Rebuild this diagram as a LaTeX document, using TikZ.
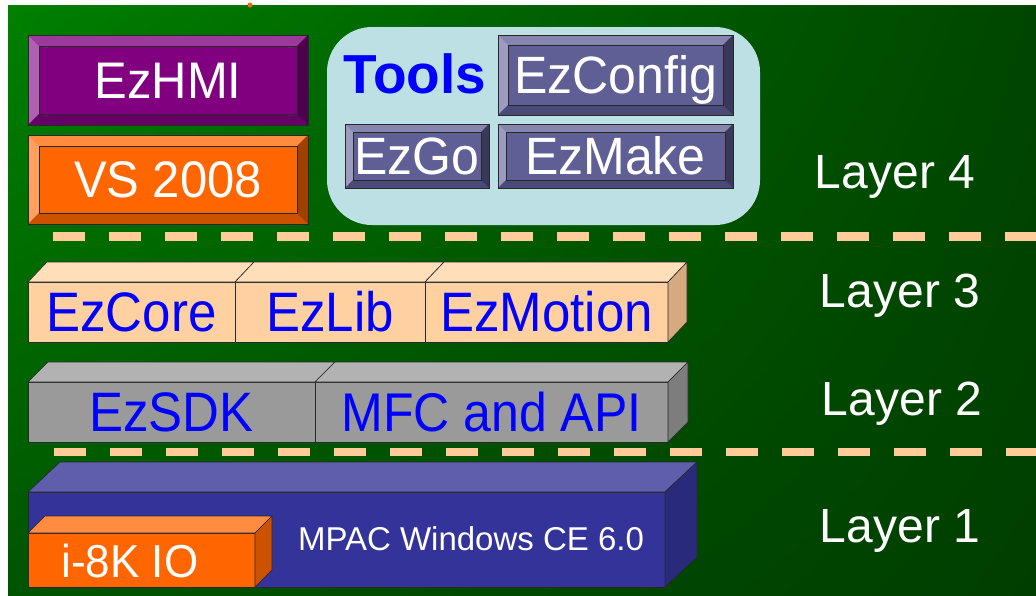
\documentclass[tikz,border=0pt]{standalone}
\usepackage{fontspec}
\setmainfont{Liberation Sans}
\usetikzlibrary{calc,shadings}
\definecolor{bgA}{RGB}{0,128,0}
\definecolor{bgB}{RGB}{0,70,0}
\definecolor{bgC}{RGB}{0,84,0}
\definecolor{bgD}{RGB}{0,62,0}
\definecolor{peach}{RGB}{255,204,153}
\definecolor{edge}{RGB}{40,40,40}
\definecolor{purF}{RGB}{128,0,128}
\definecolor{purT}{RGB}{155,58,155}
\definecolor{purL}{RGB}{176,96,176}
\definecolor{purB}{RGB}{102,0,102}
\definecolor{purR}{RGB}{77,0,77}
\definecolor{orF}{RGB}{255,102,0}
\definecolor{orT}{RGB}{255,140,63}
\definecolor{orL}{RGB}{255,160,96}
\definecolor{orB}{RGB}{204,82,0}
\definecolor{orR}{RGB}{160,64,0}
\definecolor{slF}{RGB}{95,95,150}
\definecolor{slT}{RGB}{133,133,175}
\definecolor{slL}{RGB}{156,156,192}
\definecolor{slB}{RGB}{74,74,120}
\definecolor{slR}{RGB}{56,56,90}
\definecolor{bubble}{RGB}{188,224,228}
\definecolor{beF}{RGB}{255,208,160}
\definecolor{beT}{RGB}{255,222,186}
\definecolor{beS}{RGB}{214,170,126}
\definecolor{grF}{RGB}{154,154,154}
\definecolor{grT}{RGB}{178,178,178}
\definecolor{grS}{RGB}{125,125,125}
\definecolor{blF}{RGB}{51,51,153}
\definecolor{blT}{RGB}{94,94,173}
\definecolor{blS}{RGB}{42,42,125}
\definecolor{txtblue}{RGB}{0,0,255}
\newcommand{\tallw}[1]{\scalebox{1}[1.05]{#1}}
\newcommand{\tallb}[1]{\scalebox{1}[1.09]{#1}}
\newcommand{\bev}[6]{%
  \fill[#3] (#1.north west) -- (#1.north east) -- ([shift={(-#2,#2)}]#1.north east) -- ([shift={(#2,#2)}]#1.north west) -- cycle;
  \fill[#4] (#1.north west) -- ([shift={(#2,#2)}]#1.north west) -- ([shift={(#2,-#2)}]#1.south west) -- (#1.south west) -- cycle;
  \fill[#5] (#1.south west) -- (#1.south east) -- ([shift={(-#2,-#2)}]#1.south east) -- ([shift={(#2,-#2)}]#1.south west) -- cycle;
  \fill[#6] (#1.north east) -- (#1.south east) -- ([shift={(-#2,-#2)}]#1.south east) -- ([shift={(-#2,#2)}]#1.north east) -- cycle;
  \draw[edge, line width=0.6pt] (#1.north west) rectangle (#1.south east);
  \draw[edge, line width=0.4pt] ([shift={(#2,#2)}]#1.north west) rectangle ([shift={(-#2,-#2)}]#1.south east);
}
\newcommand{\topface}[4]{%
  \filldraw[fill=#4, draw=edge, line width=0.6pt] (#1.north west) -- ([shift={(#2,-#3)}]#1.north west) -- ([shift={(#2,-#3)}]#1.north east) -- (#1.north east) -- cycle;}
\newcommand{\sideface}[4]{%
  \filldraw[fill=#4, draw=edge, line width=0.6pt] (#1.north east) -- ([shift={(#2,-#3)}]#1.north east) -- ([shift={(#2,-#3)}]#1.south east) -- (#1.south east) -- cycle;}
\begin{document}
\begin{tikzpicture}[x=1pt,y=-1pt,
  capw/.style={font=\fontsize{#1}{#1}\selectfont, text height=0.752*#1, text depth=0pt, text=white},
  capb/.style={font=\fontsize{#1}{#1}\selectfont, text height=0.780*#1, text depth=0pt, text=txtblue},
  box/.style={rectangle, inner sep=0pt, outer sep=0pt},
  front/.style={box, draw=edge, line width=0.6pt},
  dashline/.style={peach, dash pattern=on 32pt off 24pt},
  layerlbl/.style={text=white, font=\fontsize{48}{48}\selectfont, anchor=base, inner sep=0pt}
]
\useasboundingbox (0,0) rectangle (1036,595);
\fill[white] (0,0) rectangle (1036,595);
\shade[upper left=bgA, upper right=bgB, lower left=bgC, lower right=bgD] (8,5) rectangle (1036,595);
\fill[orF] (250,5) circle (2.5);

% dashed separators
\coordinate (d1s) at (53,236.5);
\coordinate (d1e) at (1036,236.5);
\coordinate (d2s) at (54,452);
\coordinate (d2e) at (1036,452);
\draw[dashline, line width=9pt] (d1s) -- (d1e);
\draw[dashline, line width=8pt] (d2s) -- (d2e);

% Layer 4
\node[box, fill=purF, minimum width=280, minimum height=90, capw=49] (ezhmi) at (168,80) {\tallw{EzHMI}};
\bev{ezhmi}{11}{purT}{purL}{purB}{purR}
\node[box, fill=orF, minimum width=280, minimum height=89, capw=49] (vs) at (168,179.5) {\tallw{VS 2008}};
\bev{vs}{11}{orT}{orL}{orB}{orR}

\node[box, fill=bubble, rounded corners=45pt, minimum width=433, minimum height=198] (toolsbg) at (543.5,126) {};
\node[anchor=base, inner sep=0pt, text=txtblue, font=\fontsize{55}{55}\selectfont\bfseries] (tools) at (415,93) {Tools};
\node[box, fill=slF, minimum width=235, minimum height=80, capw=50] (ezconfig) at (615.5,75) {\tallw{EzConfig}};
\bev{ezconfig}{10}{slT}{slL}{slB}{slR}
\node[box, fill=slF, minimum width=144, minimum height=64, capw=50] (ezgo) at (417,156) {\tallw{EzGo}};
\bev{ezgo}{8}{slT}{slL}{slB}{slR}
\node[box, fill=slF, minimum width=235, minimum height=64, capw=50] (ezmake) at (615.5,156) {\tallw{EzMake}};
\bev{ezmake}{8}{slT}{slL}{slB}{slR}

% Layer 3
\node[front, fill=beF, minimum width=207, minimum height=60, capb=51] (ezcore) at (131.5,312) {\tallb{EzCore}};
\node[front, fill=beF, minimum width=190, minimum height=60, capb=51] (ezlib) at (330,312) {\tallb{EzLib}};
\node[front, fill=beF, minimum width=243, minimum height=60, capb=51] (ezmotion) at (546.5,312) {\tallb{EzMotion}};
\topface{ezcore}{19}{20}{beT}
\topface{ezlib}{19}{20}{beT}
\topface{ezmotion}{19}{20}{beT}
\sideface{ezmotion}{19}{20}{beS}

% Layer 2
\node[front, fill=grF, minimum width=287, minimum height=60, capb=51] (ezsdk) at (171.5,412) {\tallb{EzSDK}};
\node[front, fill=grF, minimum width=353, minimum height=60, capb=50] (mfc) at (491.5,412) {\tallb{MFC and API}};
\topface{ezsdk}{20}{20}{grT}
\topface{mfc}{20}{20}{grT}
\sideface{mfc}{20}{20}{grS}

% Layer 1
\node[front, fill=blF, minimum width=637, minimum height=95] (mpac) at (346.5,539.5) {};
\topface{mpac}{32}{30}{blT}
\sideface{mpac}{32}{30}{blS}
\node[anchor=base, inner sep=0pt, text=white, font=\fontsize{33}{33}\selectfont] (mpactxt) at (471,550) {MPAC Windows CE 6.0};
\node[front, fill=orF, minimum width=227, minimum height=54] (io) at (141.5,560) {};
\topface{io}{17}{17}{orT}
\sideface{io}{17}{17}{orB}
\node[anchor=base, inner sep=0pt, text=white, font=\fontsize{44}{44}\selectfont] (iotxt) at (130,577) {\tallw{i-8K IO}};

% layer labels
\node[layerlbl] (l4) at (895,188) {Layer 4};
\node[layerlbl] (l3) at (900,307) {Layer 3};
\node[layerlbl] (l2) at (902,415) {Layer 2};
\node[layerlbl] (l1) at (900,542) {Layer 1};
\end{tikzpicture}
\end{document}
